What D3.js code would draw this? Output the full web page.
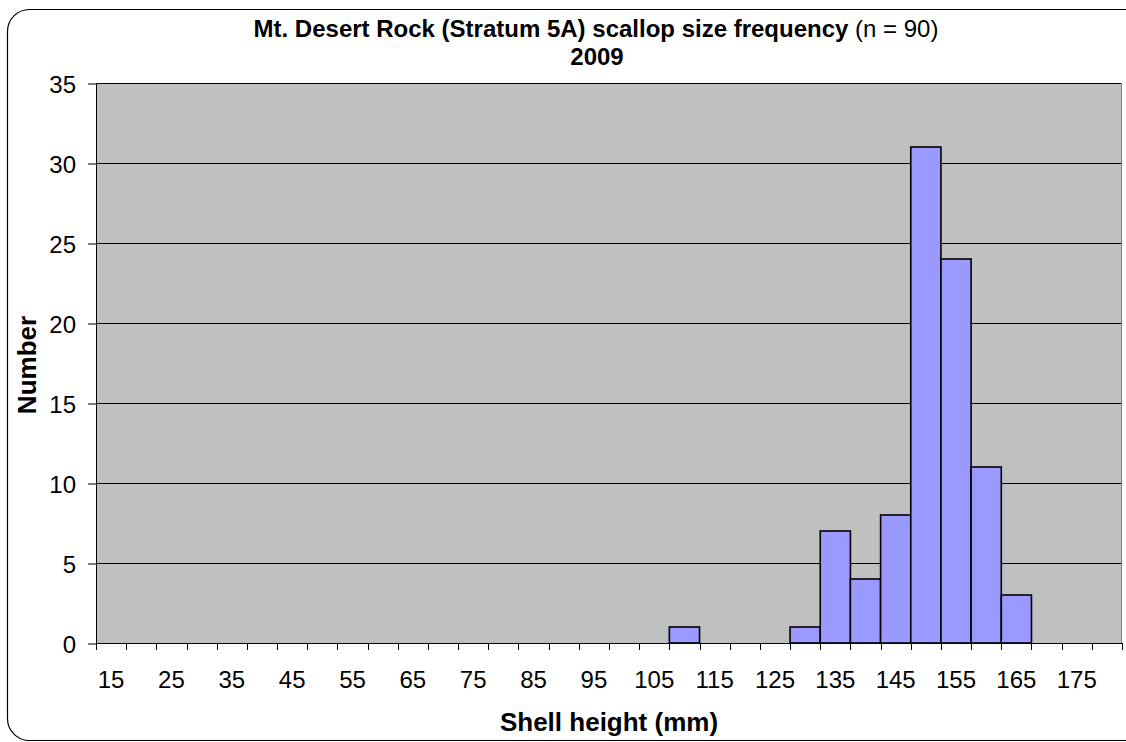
<!DOCTYPE html>
<html><head><meta charset="utf-8">
<script src="https://cdn.jsdelivr.net/npm/d3@7"></script>
<style>body{margin:0;background:#fff;}svg{display:block;font-family:Arial,"Liberation Sans",sans-serif;}</style>
</head><body>
<svg id="c" width="1126" height="742"></svg>
<script>
const categories = [15,20,25,30,35,40,45,50,55,60,65,70,75,80,85,90,95,100,105,110,115,120,125,130,135,140,145,150,155,160,165,170,175,180];
const counts =     [0,0,0,0,0,0,0,0,0,0,0,0,0,0,0,0,0,0,0,1,0,0,0,1,7,4,8,31,24,11,3,0,0,0];
const yTicks = [0,5,10,15,20,25,30,35];
const xLabels = [15,25,35,45,55,65,75,85,95,105,115,125,135,145,155,165,175];

const svg = d3.select("#c");
svg.append("rect").attr("x",7.5).attr("y",9.5).attr("width",1140).attr("height",731)
  .attr("rx",22).attr("fill","#fff").attr("stroke","#000").attr("stroke-width",1.2);

const L=96,R=1122,T=83,B=643;
const x = d3.scaleBand().domain(categories).range([L,R]).padding(0);
const y = d3.scaleLinear().domain([0,35]).range([B,T]);
const cy = d => Math.round(y(d)) + 0.5;

svg.append("rect").attr("x",L).attr("y",T).attr("width",R-L).attr("height",B-T).attr("fill","#C0C0C0");

svg.append("g").selectAll("line").data(yTicks).join("line")
  .attr("x1",L).attr("x2",R).attr("y1",cy).attr("y2",cy).attr("stroke","#000").attr("stroke-width",1);

svg.append("g").selectAll("rect").data(categories.map((c,i)=>({c,v:counts[i]})).filter(d=>d.v>0)).join("rect")
  .attr("x",d=>x(d.c)).attr("width",x.bandwidth()).attr("y",d=>y(d.v)).attr("height",d=>B-y(d.v))
  .attr("fill","#9999FF").attr("stroke","#000").attr("stroke-width",1.6);

// plot border
svg.append("line").attr("x1",R-0.5).attr("x2",R-0.5).attr("y1",T).attr("y2",B).attr("stroke","#808080");
svg.append("line").attr("x1",L+0.5).attr("x2",L+0.5).attr("y1",T).attr("y2",B).attr("stroke","#000");
svg.append("line").attr("x1",L).attr("x2",R).attr("y1",B+0.5).attr("y2",B+0.5).attr("stroke","#000");

// y axis
const ya = svg.append("g").attr("transform",`translate(${L},0.5)`)
  .call(d3.axisLeft(y).tickValues(yTicks).tickSize(8).tickPadding(12).tickFormat(d3.format("d")));
ya.select(".domain").remove();
ya.selectAll("line").attr("stroke","#000");
ya.selectAll("text").attr("font-size",24).attr("fill","#000").attr("dy","0.36em").attr("font-family","Arial, 'Liberation Sans', sans-serif");

// x axis ticks at band boundaries
const bounds = categories.map(c=>x(c)).concat([R]);
svg.append("g").selectAll("line").data(bounds).join("line")
  .attr("x1",d=>Math.round(d)+0.5).attr("x2",d=>Math.round(d)+0.5).attr("y1",B).attr("y2",B+7).attr("stroke","#000");
svg.append("g").selectAll("text").data(xLabels).join("text")
  .attr("x",d=>x(d)+x.bandwidth()/2).attr("y",688).attr("text-anchor","middle")
  .attr("font-size",24).attr("fill","#000").text(d=>d);

// titles
const t = svg.append("text").attr("x",596).attr("y",37).attr("text-anchor","middle").attr("font-size",24);
t.append("tspan").attr("font-weight","bold").text("Mt. Desert Rock (Stratum 5A) scallop size frequency");
t.append("tspan").text(" (n = 90)");
svg.append("text").attr("x",597).attr("y",65).attr("text-anchor","middle").attr("font-size",24).attr("font-weight","bold").text("2009");

svg.append("text").attr("x",609).attr("y",731).attr("text-anchor","middle").attr("font-size",26).attr("font-weight","bold").text("Shell height (mm)");
svg.append("text").attr("transform","translate(36,365) rotate(-90)").attr("text-anchor","middle").attr("font-size",26).attr("font-weight","bold").text("Number");
</script>
</body></html>
